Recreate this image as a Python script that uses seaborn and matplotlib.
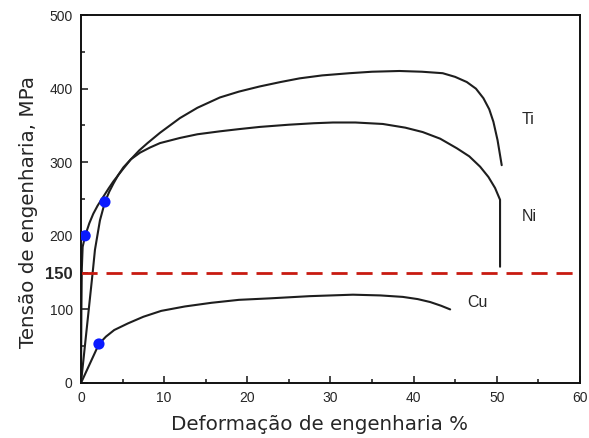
import numpy as np
import pandas as pd
import matplotlib
matplotlib.use("Agg")
import matplotlib.pyplot as plt
import seaborn as sns

# curvas tensao x deformacao
ti_strain = [0, 0.05, 0.1, 0.2, 0.5, 1.0, 1.48, 2.0, 2.68, 3.3, 3.9, 5.0, 6.0, 7.0, 8.0, 9.5,
             11.9, 14.0, 16.7, 19.0, 21.5, 24.0, 26.3, 29.0, 32.3, 35.0, 38.3, 41.0, 43.5,
             45.0, 46.4, 47.5, 48.4, 49.1, 49.6, 50.1, 50.6]
ti_stress = [0, 100, 155, 185, 200, 217, 230, 241, 253, 264, 274, 290, 304, 316, 326, 340,
             360, 374, 388, 396, 403, 409, 414, 418, 421, 423, 424, 423, 421,
             416, 409, 400, 387, 372, 355, 330, 296]

ni_strain = [0, 1.45, 1.68, 2.28, 2.88, 3.4, 3.9, 4.5, 5.1, 6.0, 7.1, 8.3, 9.5, 11.9, 14.0,
             16.7, 19.0, 21.5, 25.0, 28.0, 30.3, 33.0, 36.3, 39.0, 41.1, 43.2, 45.2, 46.7,
             48.0, 49.0, 49.8, 50.4, 50.4]
ni_stress = [0, 155, 181, 221, 246, 260, 271, 283, 293, 304, 313, 320, 326, 333, 338,
             342, 345, 348, 351, 353, 354, 354, 352, 347, 341, 332, 319, 308,
             294, 280, 265, 249, 158]

cu_strain = [0, 2.16, 3.0, 4.0, 5.65, 7.5, 9.65, 12.5, 15.7, 19.0, 22.7, 27.5, 32.7, 36.0,
             38.7, 40.5, 42.0, 43.3, 44.4]
cu_stress = [0, 53, 63, 72, 81, 90, 98, 104, 109, 113, 115, 118, 120, 119,
             117, 114, 110, 105, 100]

# pontos de escoamento (azul)
yield_strain = [0.5, 2.88, 2.16]
yield_stress = [200, 246, 53]

labels = ["Ti", "Ni", "Cu"]
label_x = [53, 53, 46.4]
label_y = [358, 226, 110]

limite = 150

frames = []
for nome, x, y in zip(labels, [ti_strain, ni_strain, cu_strain], [ti_stress, ni_stress, cu_stress]):
    frames.append(pd.DataFrame({"def": x, "tensao": y, "material": nome}))
df = pd.concat(frames, ignore_index=True)
df_y = pd.DataFrame({"def": yield_strain, "tensao": yield_stress})

sns.set_style("white")
plt.rcParams["font.family"] = ["Liberation Sans", "DejaVu Sans"]

fig = plt.figure(figsize=(5.89, 4.38), dpi=100)
ax = fig.add_axes([0.1375, 0.1256, 0.847, 0.840])

for nome in labels:
    sns.lineplot(data=df[df["material"] == nome], x="def", y="tensao", sort=False,
                 estimator=None, color="#1e1e1e", linewidth=1.5, ax=ax)

ax.axhline(limite, color="#c81a10", linewidth=2.0, dashes=(5.8, 3.2))

sns.scatterplot(data=df_y, x="def", y="tensao", color="#0a1aff", s=65,
                edgecolor="none", zorder=5, ax=ax)

for t, x, y in zip(labels, label_x, label_y):
    ax.text(x, y, t, fontsize=11.5, ha="left", va="center")

ax.set_xlim(0, 60)
ax.set_ylim(0, 500)
ax.set_xticks([0, 10, 20, 30, 40, 50, 60])
ax.set_xticks([5, 15, 25, 35, 45, 55], minor=True)
ax.set_yticks([0, 100, 150, 200, 300, 400, 500])
ax.set_yticks([50, 250, 350, 450], minor=True)
ax.set_yticklabels(["0", "100", "150", "200", "300", "400", "500"])
ax.tick_params(which="major", direction="in", length=5, width=1.2, labelsize=10, pad=6)
ax.tick_params(which="minor", direction="in", length=3, width=1.2)
ax.tick_params(bottom=True, left=True, which="both")
for lab in ax.get_yticklabels():
    if lab.get_text() == "150":
        lab.set_fontweight("bold")
        lab.set_fontsize(12)
for s in ax.spines.values():
    s.set_linewidth(1.4)
    s.set_color("#111111")

ax.set_xlabel("Deformação de engenharia %", fontsize=14.3, family=["DejaVu Sans"])
ax.set_ylabel("Tensão de engenharia, MPa", fontsize=14.3, family=["DejaVu Sans"])
ax.xaxis.set_label_coords(0.479, -0.087)
ax.yaxis.set_label_coords(-0.086, 0.465)

fig.savefig("out.png", dpi=100)
